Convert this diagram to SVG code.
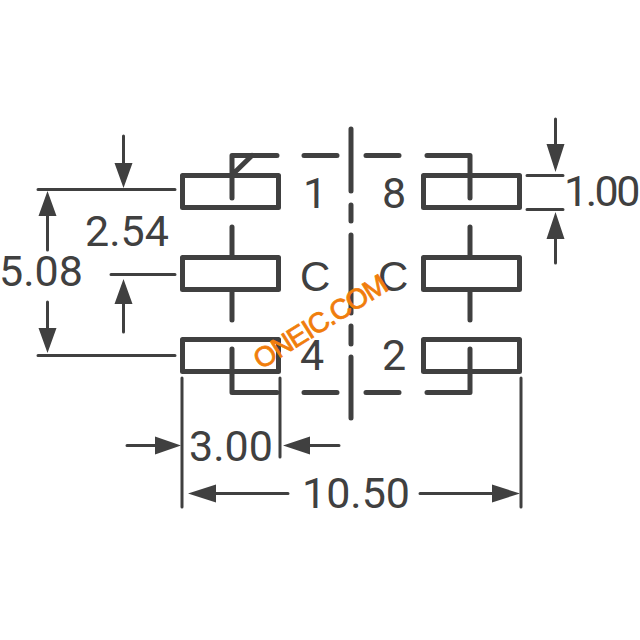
<svg xmlns="http://www.w3.org/2000/svg" width="640" height="640" viewBox="0 0 640 640">
<style>
.pad{fill:none;stroke:#404040;stroke-width:5;stroke-linejoin:round}
.ln{fill:none;stroke:#404040;stroke-width:5;stroke-linecap:round;stroke-linejoin:round}
.dim{fill:none;stroke:#404040;stroke-width:3;stroke-linecap:round}
.hd{fill:#404040}
text{font-family:Roboto,"Liberation Sans",Arial,sans-serif;font-size:43px;fill:#404040}
.c{font-family:"Liberation Sans",Arial,sans-serif;font-size:42px}
.wm{font-family:"Liberation Sans",Arial,sans-serif;font-size:28px;letter-spacing:-1.200px;fill:#f07d0c;stroke:#f07d0c;stroke-width:.8}
</style>
<rect width="640" height="640" fill="#fff"/>
<g id="connectors">
<path class="ln" d="M277 155.500H232V198M232 175L252 155.500M232 227V257M232 292V320M232 349V392.500H277"/>
<path class="ln" d="M304 155.500H337M366 155.500H399M304 392.500H337M366 392.500H399"/>
<path class="ln" d="M351 129V191M351 205V221M351 235V313M351 326V344M351 357V418"/>
<path class="ln" d="M427 155.500H470V198M470 227V257M470 292V320M470 349V392.500H427"/>
<path class="dim" d="M38 189.500H175M38 355.500H175M111 274.500H175M527 175.500H563M527 209.500H563M182 378V507M280 378V457M521 378V507"/>
<path class="dim" d="M123.500 136V165M47.500 216V250M47.500 302V330M123.500 304V332M555.500 119V150M555.500 239V263M127 445.500H155M310 445.500H339M216 493.500H288M420 493.500H492"/>
<path class="hd" d="M114.500 163H132.500L123.500 188ZM38.500 216H56.500L47.500 191ZM38.500 328H56.500L47.500 353ZM114.500 304H132.500L123.500 279ZM546.500 144H564.500L555.500 172ZM546.500 239H564.500L555.500 212ZM155 436.500V454.500L181 445.500ZM310 436.500V454.500L283 445.500ZM216 484.500V502.500L188 493.500ZM492 484.500V502.500L520 493.500Z"/>
</g>
<g id="pad-1"><rect class="pad" x="182.500" y="175.500" width="96" height="32"/></g>
<g id="pad-c-left"><rect class="pad" x="182.500" y="257.500" width="96" height="32"/></g>
<g id="pad-4"><rect class="pad" x="182.500" y="339.500" width="96" height="32"/></g>
<g id="pad-8"><rect class="pad" x="423.500" y="175.500" width="96" height="32"/></g>
<g id="pad-c-right"><rect class="pad" x="423.500" y="257.500" width="96" height="32"/></g>
<g id="pad-2"><rect class="pad" x="423.500" y="339.500" width="96" height="32"/></g>
<g id="labels">
<text x="303" y="208">1</text>
<text x="382" y="208">8</text>
<text class="c" x="300" y="291">C</text>
<text class="c" x="378" y="291">C</text>
<text x="300" y="370">4</text>
<text x="382" y="370">2</text>
<text x="85" y="246">2.54</text>
<text x="-1" y="286">5.08</text>
<text x="564" y="206" letter-spacing="-2.500">1.00</text>
<text x="189" y="461">3.00</text>
<text x="302" y="508">10.50</text>
<text class="wm" transform="translate(261 370) rotate(-32)">ONEIC.COM</text>
</g>
</svg>
